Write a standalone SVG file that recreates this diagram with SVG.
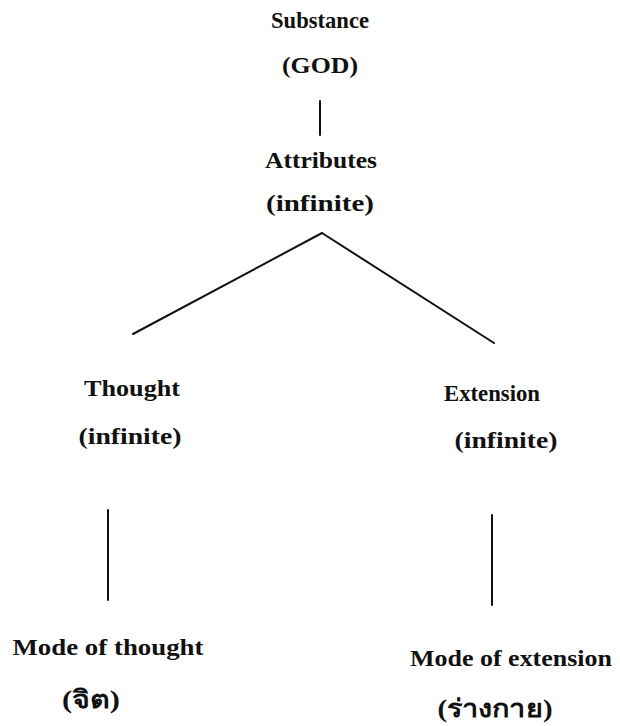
<svg xmlns="http://www.w3.org/2000/svg" width="620" height="726" viewBox="0 0 620 726">
<style>
.t{font-family:"Liberation Serif","Noto Sans",serif;font-size:23px;font-weight:bold;fill:#111;text-anchor:middle}
.th{font-family:"Liberation Serif","Noto Sans",serif;font-size:25px;font-weight:bold;fill:#111;text-anchor:middle}
.c{stroke:#111;stroke-width:2;fill:none;stroke-linecap:round}
</style>
<rect width="620" height="726" fill="#fff"/>
<g id="connectors">
<line class="c" x1="320" y1="101" x2="320" y2="135"/>
<line class="c" x1="322" y1="233" x2="133" y2="334"/>
<line class="c" x1="322" y1="233" x2="494" y2="343"/>
<line class="c" x1="108" y1="510" x2="108" y2="600"/>
<line class="c" x1="492" y1="515" x2="492" y2="605"/>
</g>
<g id="substance">
<text class="t" x="320" y="28" textLength="98" lengthAdjust="spacingAndGlyphs">Substance</text>
<text class="t" x="320" y="73" textLength="76" lengthAdjust="spacingAndGlyphs">(GOD)</text>
</g>
<g id="attributes">
<text class="t" x="321" y="168" textLength="112" lengthAdjust="spacingAndGlyphs">Attributes</text>
<text class="t" x="320" y="211" textLength="108" lengthAdjust="spacingAndGlyphs">(infinite)</text>
</g>
<g id="thought">
<text class="t" x="132" y="396" textLength="96" lengthAdjust="spacingAndGlyphs">Thought</text>
<text class="t" x="130" y="444" textLength="103" lengthAdjust="spacingAndGlyphs">(infinite)</text>
</g>
<g id="extension">
<text class="t" x="492" y="401" textLength="96" lengthAdjust="spacingAndGlyphs">Extension</text>
<text class="t" x="506" y="448" textLength="103" lengthAdjust="spacingAndGlyphs">(infinite)</text>
</g>
<g id="mode-of-thought">
<text class="t" x="108" y="655" textLength="191" lengthAdjust="spacingAndGlyphs">Mode of thought</text>
<text class="th" x="91" y="708" textLength="58" lengthAdjust="spacingAndGlyphs">(จิต)</text>
</g>
<g id="mode-of-extension">
<text class="t" x="511" y="666" textLength="202" lengthAdjust="spacingAndGlyphs">Mode of extension</text>
<text class="th" x="495" y="717" textLength="115" lengthAdjust="spacingAndGlyphs">(ร่างกาย)</text>
</g>
</svg>
